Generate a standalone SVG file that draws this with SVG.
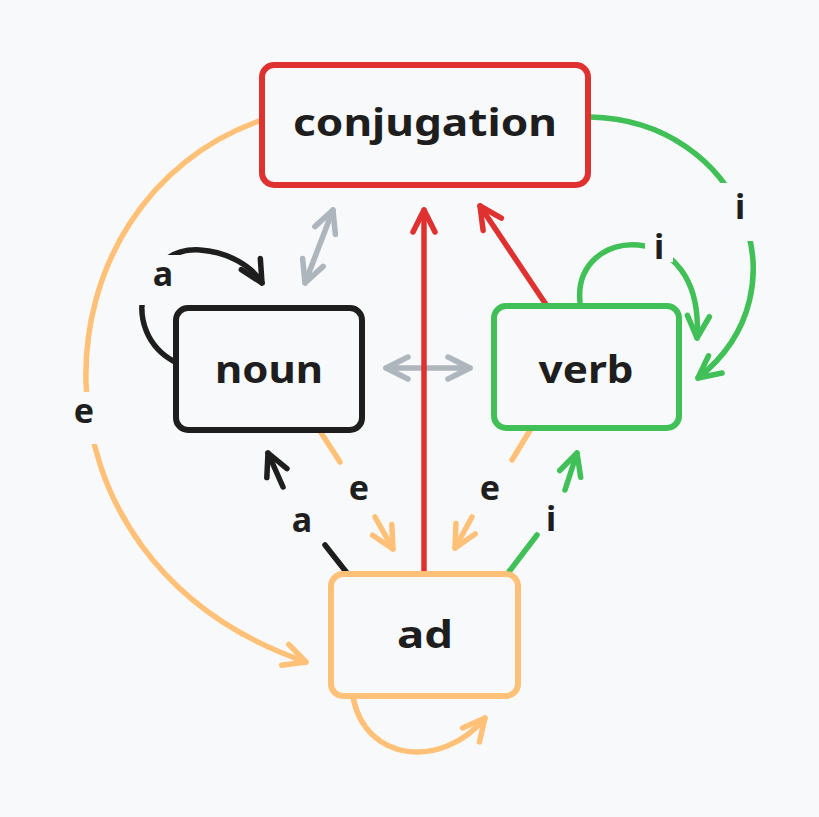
<svg xmlns="http://www.w3.org/2000/svg" width="819" height="817" viewBox="0 0 819 817">
<style>
.node{fill:#f8f9fa;stroke-width:6;stroke-linejoin:round}
.lbl{font-family:"Noto Sans","DejaVu Sans",sans-serif;font-weight:700;font-size:38px;fill:#1e1e1e;text-anchor:middle}
.el{font-family:"Noto Sans","DejaVu Sans",sans-serif;font-weight:700;font-size:34px;fill:#1e1e1e;text-anchor:middle}
.c{fill:none;stroke-width:5.5;stroke-linecap:round;stroke-linejoin:round}
.bg{fill:#f8f9fa;stroke:none}
</style>
<defs>
<marker id="mr" viewBox="-30 -15 35 30" markerWidth="35" markerHeight="30" refX="0" refY="0" orient="auto-start-reverse" markerUnits="userSpaceOnUse"><path d="M-22,-11 L0,0 L-22,11" fill="none" stroke="#e03131" stroke-width="5.5" stroke-linecap="round" stroke-linejoin="round"/></marker>
<marker id="mg" viewBox="-30 -15 35 30" markerWidth="35" markerHeight="30" refX="0" refY="0" orient="auto-start-reverse" markerUnits="userSpaceOnUse"><path d="M-22,-11 L0,0 L-22,11" fill="none" stroke="#40c057" stroke-width="5.5" stroke-linecap="round" stroke-linejoin="round"/></marker>
<marker id="mo" viewBox="-30 -15 35 30" markerWidth="35" markerHeight="30" refX="0" refY="0" orient="auto-start-reverse" markerUnits="userSpaceOnUse"><path d="M-22,-11 L0,0 L-22,11" fill="none" stroke="#ffc078" stroke-width="5.5" stroke-linecap="round" stroke-linejoin="round"/></marker>
<marker id="mk" viewBox="-30 -15 35 30" markerWidth="35" markerHeight="30" refX="0" refY="0" orient="auto-start-reverse" markerUnits="userSpaceOnUse"><path d="M-22,-11 L0,0 L-22,11" fill="none" stroke="#1e1e1e" stroke-width="5.5" stroke-linecap="round" stroke-linejoin="round"/></marker>
<marker id="ms" viewBox="-30 -15 35 30" markerWidth="35" markerHeight="30" refX="0" refY="0" orient="auto-start-reverse" markerUnits="userSpaceOnUse"><path d="M-22,-11 L0,0 L-22,11" fill="none" stroke="#adb5bd" stroke-width="5.5" stroke-linecap="round" stroke-linejoin="round"/></marker>
</defs>
<rect x="0" y="0" width="819" height="817" fill="#f8f9fa"/>

<g id="connectors">
  <!-- conjugation -> ad (left arc, e) -->
  <path class="c" stroke="#ffc078" d="M262,120 C30,200 10,560 306,662" marker-end="url(#mo)"/>
  <rect class="bg" x="62" y="392" width="48" height="52"/>
  <text class="el" x="84" y="423">e</text>
  <!-- conjugation -> verb (right arc, i) -->
  <path class="c" stroke="#40c057" d="M590,117 C740,120 810,290 698,378" marker-end="url(#mg)"/>
  <rect class="bg" x="718" y="183" width="44" height="58"/>
  <text class="el" x="740" y="219">i</text>
  <!-- verb self loop (i) -->
  <path class="c" stroke="#40c057" d="M580,302 C572,225 705,215 697,338" marker-end="url(#mg)"/>
  <rect class="bg" x="645" y="226" width="28" height="36"/>
  <text class="el" x="659" y="259">i</text>
  <!-- noun self loop (a) -->
  <path class="c" stroke="#1e1e1e" d="M175,362 C118,332 140,246 200,250 C228,252 252,266 262,283" marker-end="url(#mk)"/>
  <rect class="bg" x="138" y="255" width="48" height="50"/>
  <text class="el" x="163" y="286">a</text>
  <!-- noun <-> conjugation -->
  <path class="c" stroke="#adb5bd" d="M305,283 L333,210" marker-start="url(#ms)" marker-end="url(#ms)"/>
  <!-- noun <-> verb -->
  <path class="c" stroke="#adb5bd" d="M386,368 L470,368" marker-start="url(#ms)" marker-end="url(#ms)"/>
  <!-- ad -> conjugation -->
  <path class="c" stroke="#e03131" d="M424,574 L424,210" marker-end="url(#mr)"/>
  <!-- verb -> conjugation -->
  <path class="c" stroke="#e03131" d="M547,306 L480,206" marker-end="url(#mr)"/>
  <!-- noun -> ad (e) -->
  <path class="c" stroke="#ffc078" d="M318,428 L340,462"/>
  <path class="c" stroke="#ffc078" d="M375,517 L393,549" marker-end="url(#mo)"/>
  <text class="el" x="359" y="500">e</text>
  <!-- verb -> ad (e) -->
  <path class="c" stroke="#ffc078" d="M532,427 L512,460"/>
  <path class="c" stroke="#ffc078" d="M472,517 L455,548" marker-end="url(#mo)"/>
  <text class="el" x="490" y="500">e</text>
  <!-- ad -> noun (a) -->
  <path class="c" stroke="#1e1e1e" d="M347,573 L325,545"/>
  <path class="c" stroke="#1e1e1e" d="M283,487 L268,453" marker-end="url(#mk)"/>
  <text class="el" x="302" y="532">a</text>
  <!-- ad -> verb (i) -->
  <path class="c" stroke="#40c057" d="M508,573 L537,535"/>
  <path class="c" stroke="#40c057" d="M565,490 L577,453" marker-end="url(#mg)"/>
  <text class="el" x="551" y="531">i</text>
  <!-- ad self loop -->
  <path class="c" stroke="#ffc078" d="M353,697 C365,762 442,770 485,718" marker-end="url(#mo)"/>
</g>

<g id="node-conjugation">
  <rect class="node" stroke="#e03131" x="262" y="65" width="326" height="120" rx="12"/>
  <text class="lbl" x="425" y="136" textLength="264" lengthAdjust="spacingAndGlyphs">conjugation</text>
</g>
<g id="node-noun">
  <rect class="node" stroke="#1e1e1e" x="176" y="308" width="186" height="122" rx="12"/>
  <text class="lbl" x="269" y="383" textLength="108" lengthAdjust="spacingAndGlyphs">noun</text>
</g>
<g id="node-verb">
  <rect class="node" stroke="#40c057" x="494" y="306" width="185" height="122" rx="12"/>
  <text class="lbl" x="586" y="383" textLength="95" lengthAdjust="spacingAndGlyphs">verb</text>
</g>
<g id="node-ad">
  <rect class="node" stroke="#ffc078" x="331" y="574" width="187" height="122" rx="12"/>
  <text class="lbl" x="425" y="648" textLength="56" lengthAdjust="spacingAndGlyphs">ad</text>
</g>
</svg>
